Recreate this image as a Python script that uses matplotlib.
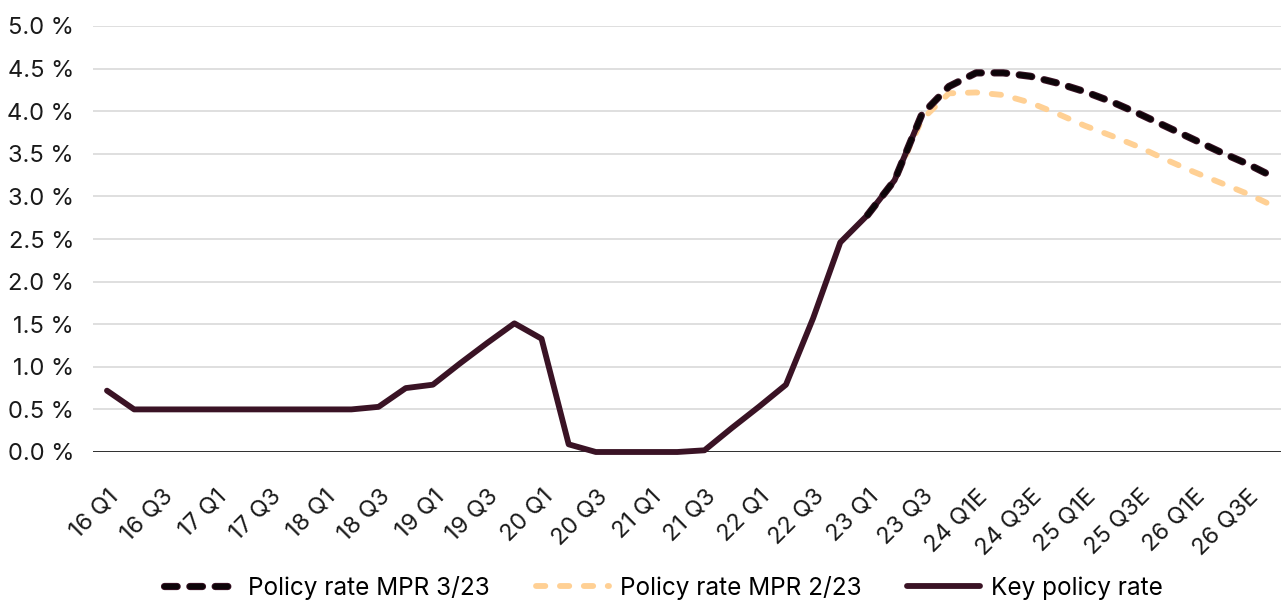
import matplotlib.pyplot as plt
import matplotlib.patheffects as pe

# quarters 16 Q1 .. 26 Q4, forecasts marked with E from 23 Q4
quarters = [f'{y} Q{q}' + ('E' if (y, q) >= (23, 4) else '') for y in range(16, 27) for q in range(1, 5)]

key_rate = [0.72, 0.50, 0.50, 0.50, 0.50, 0.50, 0.50, 0.50, 0.50, 0.50,
            0.53, 0.75, 0.79, 1.04, 1.28, 1.51, 1.33, 0.09, 0.00, 0.00,
            0.00, 0.00, 0.02, 0.28, 0.53, 0.79, 1.57, 2.46, 2.78, 3.19, 3.96]

# MPR paths, starting at 23 Q1 (index 28)
mpr3_start = 28
mpr3 = [2.78, 3.19, 3.96, 4.29, 4.45, 4.45, 4.41, 4.33, 4.23, 4.11,
        3.97, 3.82, 3.67, 3.52, 3.38, 3.22]
mpr2_start = 28
mpr2 = [2.78, 3.19, 3.90, 4.21, 4.22, 4.19, 4.10, 3.97, 3.83, 3.71,
        3.58, 3.43, 3.29, 3.16, 3.03, 2.88]

burgundy = '#3a1325'
orange = '#ffd094'

plt.rcParams['font.family'] = ['Inter', 'DejaVu Sans']
plt.rcParams['font.size'] = 17

fig = plt.figure(figsize=(12.81, 6.01), dpi=100)
ax = fig.add_axes([93.4/1281, 149/601, 1195/1281, 426/601])

x = list(range(len(quarters)))

ax.plot(x[mpr2_start:mpr2_start+len(mpr2)], mpr2, color=orange, lw=4.2,
        ls=(0, (1.6, 2.5)), dash_capstyle='round', clip_on=False, zorder=3,
        label='Policy rate MPR 2/23')
ax.plot(x[:len(key_rate)], key_rate, color=burgundy, lw=4.2,
        solid_capstyle='round', solid_joinstyle='round', clip_on=False, zorder=4,
        label='Key policy rate')
ax.plot(x[mpr3_start:mpr3_start+len(mpr3)], mpr3, color='#0d0509', lw=3.8,
        ls=(0, (2.4, 2.4)), dash_capstyle='round', clip_on=False, zorder=5,
        path_effects=[pe.Stroke(linewidth=5.2, foreground=burgundy), pe.Normal()],
        label='Policy rate MPR 3/23')

ax.set_xlim(-0.5, len(quarters) - 0.5)
ax.set_ylim(0, 5)
ax.set_yticks([i * 0.5 for i in range(11)])
ax.set_yticklabels([f'{i * 0.5:.1f} %' for i in range(11)])
ax.set_xticks(x[::2])
ax.set_xticklabels(quarters[::2], rotation=45, ha='right', rotation_mode='anchor')

ax.grid(axis='y', color='#d9d9d9', lw=1.2)
ax.set_axisbelow(True)
ax.axhline(0, color='#111111', lw=1.2, zorder=2)
for s in ['left', 'right', 'top', 'bottom']:
    ax.spines[s].set_visible(False)
ax.tick_params(axis='both', length=0, colors='#1a1a1a')
ax.tick_params(axis='y', pad=14)
ax.tick_params(axis='x', pad=24)

h, l = ax.get_legend_handles_labels()
order = [2, 0, 1]
fig.legend([h[i] for i in order], [l[i] for i in order], loc='center',
           bbox_to_anchor=(0.518, 0.022), ncol=3, frameon=False,
           prop={'size': 17.5},
           handlelength=3.0, handletextpad=0.45, columnspacing=1.9)

fig.savefig('out.png', dpi=100)
